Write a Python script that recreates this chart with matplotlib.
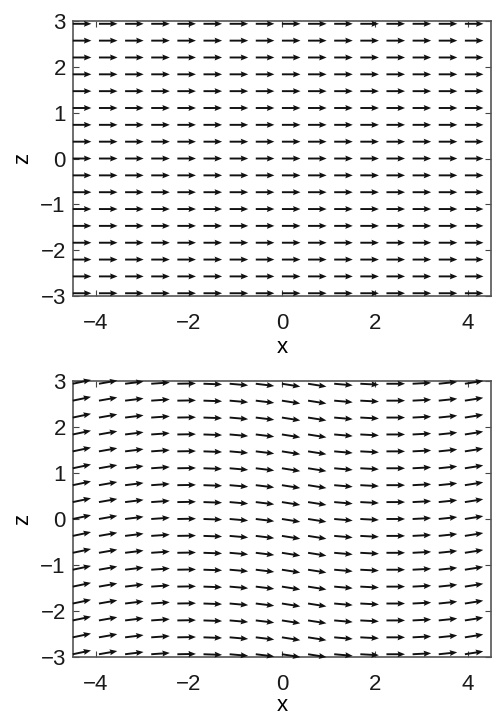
import matplotlib
matplotlib.use('Agg')
import matplotlib.pyplot as plt
import numpy as np

plt.rcParams['font.family'] = ['Liberation Sans', 'DejaVu Sans']

# siatka punktów (x, z)
x_pts = [-4.5, -3.9375, -3.375, -2.8125, -2.25, -1.6875, -1.125, -0.5625,
         0.0, 0.5625, 1.125, 1.6875, 2.25, 2.8125, 3.375, 3.9375]
z_pts = [-2.94, -2.5725, -2.205, -1.8375, -1.47, -1.1025, -0.735, -0.3675,
         0.0, 0.3675, 0.735, 1.1025, 1.47, 1.8375, 2.205, 2.5725, 2.94]

# kąty strzałek (stopnie) odczytane dla każdej kolumny
kat_gora = [0, 0, 0, 0, 0, 0, 0, 0, 0, 0, 0, 0, 0, 0, 0, 0]
kat_dol = [12, 10, 7, 4, 1, -2, -5, -7, -9, -9, -5, -3, 0, 3, 6, 9]

xticks = [-4, -2, 0, 2, 4]
zticks = [-3, -2, -1, 0, 1, 2, 3]


def rysuj(ax, katy, ylab_x):
    X, Z = np.meshgrid(x_pts, z_pts)
    a = np.deg2rad(np.array(katy, dtype=float))
    U = np.tile(np.cos(a), (len(z_pts), 1))
    W = np.tile(np.sin(a), (len(z_pts), 1))
    ax.quiver(X, Z, U, W, angles='xy', scale_units='xy', scale=1 / 0.40,
              color='#111111', width=0.0046, headwidth=3.1, headlength=3.9,
              headaxislength=3.5, clip_on=False, zorder=3)
    ax.set_xlim(-4.5, 4.5)
    ax.set_ylim(-3, 3)
    ax.set_xticks(xticks)
    ax.set_yticks(zticks)
    ax.set_xticklabels(['\u22124', '\u22122', '0', '2', '4'])
    ax.set_yticklabels(['\u22123', '\u22122', '\u22121', '0', '1', '2', '3'])
    ax.tick_params(direction='in', length=4, width=0.8, top=True, right=True,
                   labelsize=16, colors='#444444', labelcolor='#1a1a1a')
    ax.tick_params(axis='x', pad=12)
    ax.tick_params(axis='y', pad=5)
    for s in ax.spines.values():
        s.set_color('#555555')
        s.set_linewidth(1.2)
    ax.set_xlabel('x', fontsize=16, va='baseline')
    ax.set_ylabel('z', fontsize=16)
    ax.xaxis.set_label_coords(0.5, ylab_x)
    ax.yaxis.set_label_coords(-0.095, 0.5)


fig = plt.figure(figsize=(4.92, 7.16), dpi=100)
ax1 = fig.add_axes([0.148, 0.5866, 0.85, 0.384])
ax2 = fig.add_axes([0.148, 0.0824, 0.85, 0.3855])

rysuj(ax1, kat_gora, -0.207)
rysuj(ax2, kat_dol, -0.196)

fig.savefig('out.png', dpi=100)
